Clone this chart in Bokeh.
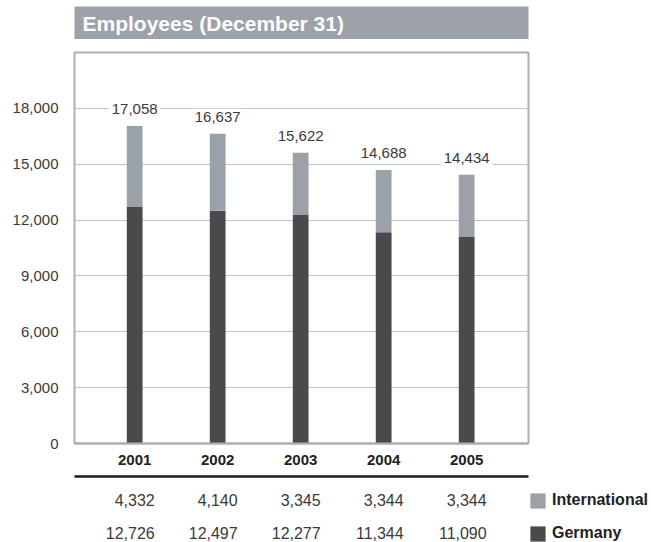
from bokeh.plotting import figure
from bokeh.models import (ColumnDataSource, Range1d, FixedTicker, NumeralTickFormatter,
                          LinearAxis, Label, Legend, LegendItem)
from bokeh.layouts import column
from bokeh.embed import file_html
from bokeh.resources import INLINE
from bokeh.core.properties import value

# ---------------- data ----------------
title_text = "Employees (December 31)"
years = ["2001", "2002", "2003", "2004", "2005"]
international = [4332, 4140, 3345, 3344, 3344]
germany = [12726, 12497, 12277, 11344, 11090]
y_ticks = [0, 3000, 6000, 9000, 12000, 15000, 18000]
series_names = ["International", "Germany"]

# ---------------- style ----------------
FONT = "Liberation Sans"
C_INT = "#9aa1a7"
C_GER = "#4a4a4c"
C_TITLE = "#9ca2a8"
C_FRAME = "#a9afb5"
C_GRID = "#bcc3c9"
C_TEXT = "#3a3a3a"
FW = 454
LEFT, RIGHT = 74, 122

idx = list(range(len(years)))
totals = [a + b for a, b in zip(international, germany)]
src = ColumnDataSource(dict(
    x=idx, year=years, international=international, germany=germany,
    total=totals, total_label=[f"{t:,}" for t in totals]))

common = dict(toolbar_location=None, output_backend="svg", frame_width=FW,
              min_border_left=LEFT, min_border_right=RIGHT)

# ---------------- title bar ----------------
pa = figure(frame_height=33, x_range=Range1d(0, 1), y_range=Range1d(0, 1),
            min_border_top=6, min_border_bottom=0,
            background_fill_color=C_TITLE, outline_line_color=None, **common)
pa.axis.visible = False
pa.grid.visible = False
pa.add_layout(Label(x=8, y=16.5, x_units="screen", y_units="screen", text=title_text,
                    text_color="white", text_font=FONT, text_font_style="bold",
                    text_font_size="21px", text_baseline="middle"))

# ---------------- main chart ----------------
pb = figure(frame_height=391, x_range=Range1d(-0.725, 4.745), y_range=Range1d(0, 21000),
            min_border_top=13, min_border_bottom=28,
            outline_line_color=C_FRAME, outline_line_width=2, **common)
pb.vbar_stack(["germany", "international"], x="x", width=0.19, source=src,
              fill_color=[C_GER, C_INT], line_color=None)
pb.text(x="x", y="total", text="total_label", source=src,
        text_align="center", text_baseline="middle", y_offset=-17,
        text_font=value(FONT), text_font_size="15px", text_color=C_TEXT,
        background_fill_color="white", padding=3)

pb.xgrid.visible = False
pb.ygrid.grid_line_color = C_GRID
pb.ygrid.grid_line_width = 1
pb.ygrid.ticker = FixedTicker(ticks=y_ticks)

pb.xaxis.ticker = FixedTicker(ticks=idx)
pb.xaxis.major_label_overrides = {i: y for i, y in zip(idx, years)}
pb.xaxis.axis_line_color = C_FRAME
pb.xaxis.axis_line_width = 2
pb.xaxis.major_tick_line_color = None
pb.xaxis.minor_tick_line_color = None
pb.xaxis.major_tick_out = 0
pb.xaxis.major_tick_in = 0
pb.xaxis.major_label_standoff = 11
pb.xaxis.major_label_text_font = FONT
pb.xaxis.major_label_text_font_style = "bold"
pb.xaxis.major_label_text_font_size = "15px"
pb.xaxis.major_label_text_color = "#222222"

pb.yaxis.ticker = FixedTicker(ticks=y_ticks)
pb.yaxis.formatter = NumeralTickFormatter(format="0,0")
pb.yaxis.axis_line_color = None
pb.yaxis.major_tick_line_color = None
pb.yaxis.minor_tick_line_color = None
pb.yaxis.major_tick_out = 0
pb.yaxis.major_tick_in = 0
pb.yaxis.major_label_standoff = 16
pb.yaxis.major_label_text_font = FONT
pb.yaxis.major_label_text_font_size = "15px"
pb.yaxis.major_label_text_color = C_TEXT

# ---------------- table below ----------------
tx, ty, tt = [], [], []
for i, (name, vals) in enumerate(zip(series_names, [international, germany])):
    for xi, v in zip(idx, vals):
        tx.append(xi)
        ty.append(len(series_names) - 1 - i)
        tt.append(f"{v:,}")
tsrc = ColumnDataSource(dict(x=tx, y=ty, t=tt))

pc = figure(frame_height=66, x_range=pb.x_range, y_range=Range1d(-0.273, 1.727),
            min_border_top=5, min_border_bottom=0, outline_line_color=None, **common)
pc.axis.visible = False
pc.grid.visible = False
top_rule = LinearAxis(ticker=FixedTicker(ticks=idx), axis_line_color="#1a1a1a",
                      axis_line_width=2.5, major_tick_line_color=None,
                      minor_tick_line_color=None, major_label_text_font_size="1px",
                      major_label_text_alpha=0,
                      major_tick_out=0, major_tick_in=0, major_label_standoff=0)
pc.add_layout(top_rule, "above")
pc.text(x="x", y="y", text="t", source=tsrc, text_align="right", text_baseline="middle",
        x_offset=20, text_font=value(FONT), text_font_size="16px", text_color=C_TEXT)

# legend swatches (zero-height bars, nothing visible in the frame)
r_int = pc.vbar(x="x", top=0, bottom=0, width=0.19, source=src, fill_color=C_INT, line_color=None)
r_ger = pc.vbar(x="x", top=0, bottom=0, width=0.19, source=src, fill_color=C_GER, line_color=None)
legend = Legend(items=[LegendItem(label=series_names[0], renderers=[r_int]),
                       LegendItem(label=series_names[1], renderers=[r_ger])],
                location=(0, -0.5), orientation="vertical",
                glyph_width=19, glyph_height=19, label_height=19, label_standoff=5,
                spacing=14, padding=0, margin=0, border_line_color=None,
                background_fill_alpha=0, label_text_font=FONT,
                label_text_font_style="bold", label_text_font_size="16px",
                label_text_color="#222222")
pc.add_layout(legend, "right")

layout = column(pa, pb, pc, spacing=0)
open("out.html", "w").write(file_html(layout, INLINE))
